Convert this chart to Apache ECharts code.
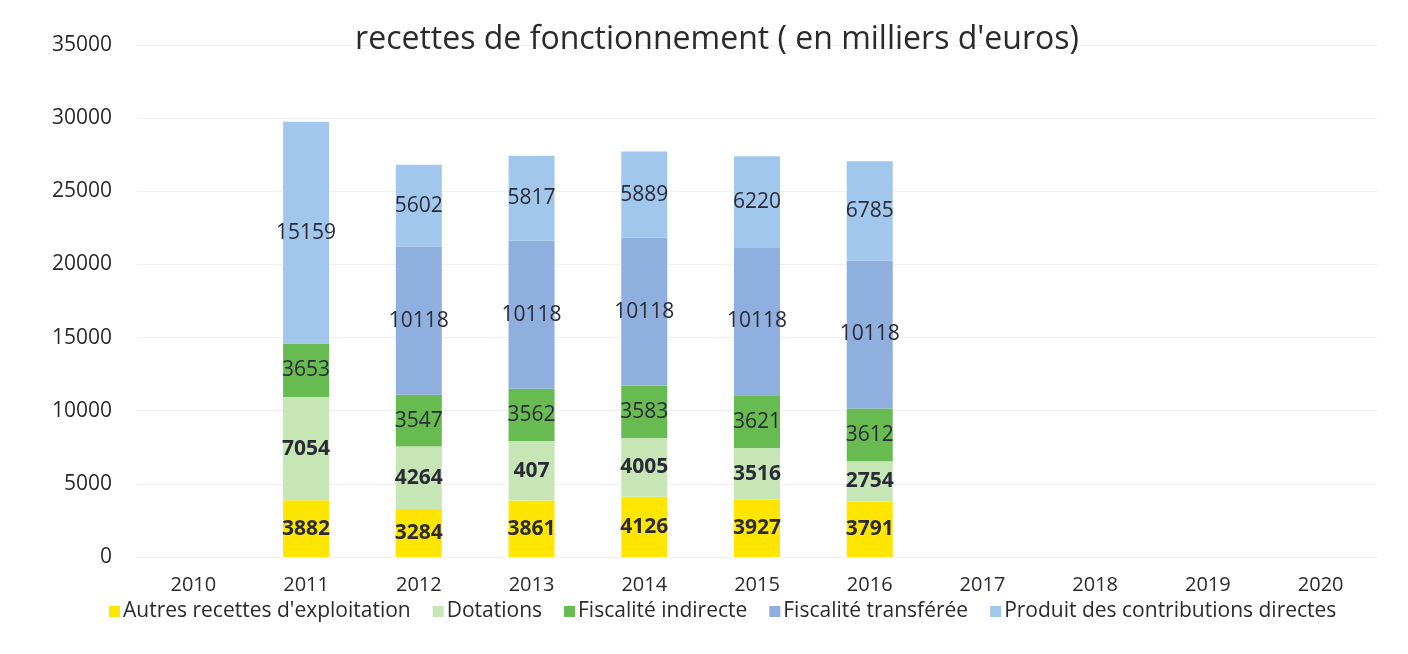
<!DOCTYPE html>
<html>
<head>
<meta charset="utf-8">
<script src="https://cdn.jsdelivr.net/npm/echarts@6/dist/echarts.min.js"></script>
<style>
	html, body { margin: 0; padding: 0; background: #fff; }
	#chart { width: 1408px; height: 654px; }
</style>
</head>
<body>
<div id="chart"></div>
<script>
var years = ['2010', '2011', '2012', '2013', '2014', '2015', '2016', '2017', '2018', '2019', '2020'];
var autres = [null, 3882, 3284, 3861, 4126, 3927, 3791, null, null, null, null];
var dotations = [null, 7054, 4264, 4070, 4005, 3516, 2754, null, null, null, null];
// libellé affiché tel quel dans l'original (2013 : "407")
var dotationsLabels = ['', '7054', '4264', '407', '4005', '3516', '2754', '', '', '', ''];
var fiscIndirecte = [null, 3653, 3547, 3562, 3583, 3621, 3612, null, null, null, null];
var fiscTransferee = [null, null, 10118, 10118, 10118, 10118, 10118, null, null, null, null];
var produitDirect = [null, 15159, 5602, 5817, 5889, 6220, 6785, null, null, null, null];
var yTicks = [0, 5000, 10000, 15000, 20000, 25000, 30000, 35000];

var fontFam = '"Open Sans", sans-serif';
var chart = echarts.init(document.getElementById('chart'));

function makeSeries (name, data, color, bold, labels) {
	return {
		name: name,
		type: 'bar',
		stack: 'total',
		data: data,
		barWidth: 46,
		itemStyle: { color: color },
		label: {
			show: true,
			position: 'inside',
			color: '#2b2b38',
			fontFamily: fontFam,
			fontSize: 21,
			fontWeight: bold ? 'bold' : 'normal',
			formatter: function (p) {
				if (labels) return labels[p.dataIndex];
				return p.value == null ? '' : p.value;
			}
		}
	};
}

chart.setOption({
	animation: false,
	backgroundColor: '#fff',
	title: {
		text: "recettes de fonctionnement ( en milliers d'euros)",
		left: 712,
		textAlign: 'center',
		top: 19,
		textStyle: { fontFamily: fontFam, fontSize: 32, fontWeight: 'normal', color: '#2a2a2a' }
	},
	legend: {
		bottom: 27,
		left: 104,
		itemWidth: 11,
		itemHeight: 11,
		itemGap: 22,
		icon: 'rect',
		textStyle: { fontFamily: fontFam, fontSize: 21, color: '#2a2a2a', padding: [0, 0, 0, -2] },
		data: ["Autres recettes d'exploitation", 'Dotations', 'Fiscalité indirecte', 'Fiscalité transférée', 'Produit des contributions directes']
	},
	grid: { left: 137, right: 31, top: 45, bottom: 97, containLabel: false },
	xAxis: {
		type: 'category',
		data: years,
		axisLine: { show: false },
		axisTick: { show: false },
		axisLabel: { fontFamily: fontFam, fontSize: 20, color: '#2a2a2a', margin: 18 }
	},
	yAxis: {
		type: 'value',
		min: yTicks[0],
		max: yTicks[yTicks.length - 1],
		interval: 5000,
		axisLine: { show: false },
		axisTick: { show: false },
		splitLine: { lineStyle: { color: '#f0f0f0', width: 1 } },
		axisLabel: {
			fontFamily: fontFam, fontSize: 21, color: '#2a2a2a', margin: 25,
			formatter: function (v) { return String(v); }
		}
	},
	series: [
		makeSeries("Autres recettes d'exploitation", autres, '#ffe600', true),
		makeSeries('Dotations', dotations, '#c6e6b6', true, dotationsLabels),
		makeSeries('Fiscalité indirecte', fiscIndirecte, '#68bb50', false),
		makeSeries('Fiscalité transférée', fiscTransferee, '#8fafdf', false),
		makeSeries('Produit des contributions directes', produitDirect, '#a2c7ec', false)
	]
});
</script>
</body>
</html>
